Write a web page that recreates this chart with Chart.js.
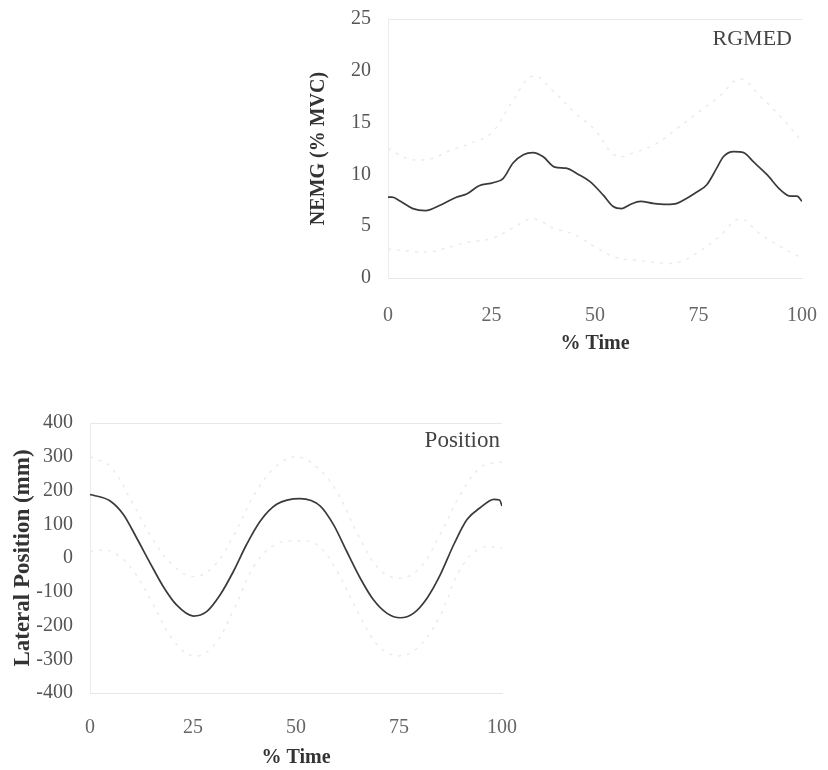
<!DOCTYPE html>
<html>
<head>
<meta charset="utf-8">
<script src="https://cdn.jsdelivr.net/npm/chart.js@4.4.1/dist/chart.umd.min.js"></script>
<style>
  html, body { margin: 0; padding: 0; background: #fff; }
  body { width: 828px; height: 770px; position: relative; overflow: hidden; }
  .box { position: absolute; }
</style>
</head>
<body>
<div class="box" style="left:300px; top:0; width:528px; height:360px;"><canvas id="grafRgmed"></canvas></div>
<div class="box" style="left:0; top:390px; width:540px; height:380px;"><canvas id="grafPos"></canvas></div>
<script>
// Datos: NEMG del glúteo medio derecho (RGMED)
const rgmedTime = [0, 1, 3, 6, 9, 13, 16.5, 19, 22, 25.4, 27.8, 30.2, 32.7, 35, 37.5, 40.3, 43, 46, 48.8, 52, 54.4, 56.5, 58.5, 61, 64, 67.3, 69.8, 72.2, 74.6, 77, 79.4, 81, 83.5, 85.9, 88.3, 91.5, 94.8, 97.2, 98.8, 100];
const rgmedMean = [7.8, 7.8, 7.4, 6.7, 6.5, 7.1, 7.8, 8.1, 8.9, 9.2, 9.6, 11.1, 11.9, 12.1, 11.7, 10.7, 10.6, 10.0, 9.3, 8.0, 6.9, 6.7, 7.1, 7.4, 7.2, 7.1, 7.2, 7.7, 8.3, 9.0, 10.6, 11.7, 12.2, 12.1, 11.2, 10.0, 8.5, 7.9, 7.9, 7.4];
// bandas (+/- DE), apenas visibles
const rgmedBandTime = [0, 5, 10, 15, 20, 25, 30, 35, 40, 45, 50, 55, 60, 65, 70, 75, 80, 85, 90, 95, 100];
const rgmedUpper = [12.5, 11.5, 11.5, 12.3, 13.0, 14.0, 17.0, 19.5, 18.0, 16.0, 14.3, 11.8, 12.2, 13.0, 14.5, 16.0, 17.5, 19.2, 17.5, 15.5, 13.2];
const rgmedLower = [2.8, 2.6, 2.5, 3.0, 3.5, 3.8, 4.8, 5.7, 4.8, 4.2, 3.0, 2.0, 1.7, 1.5, 1.5, 2.5, 4.0, 5.7, 4.2, 3.0, 1.9];

// Datos de posición lateral (mm)
const posTime = [0, 0.8, 4.9, 8.1, 11.3, 14.6, 17.8, 21, 25.1, 28.3, 31.6, 34.8, 38, 41.3, 45.3, 51, 55.9, 59.1, 62.3, 65.6, 68.8, 72.1, 75.3, 78.5, 81.8, 85, 88.3, 91.5, 94.7, 98, 99.4, 100];
const posMean = [188, 186, 169, 129, 60, -15, -85, -139, -172, -159, -109, -40, 40, 109, 159, 176, 154, 99, 20, -60, -124, -164, -177, -164, -119, -50, 40, 114, 149, 174, 172, 154];
const posBandTime = [0, 5, 10, 15, 20, 25, 30, 35, 40, 45, 50, 55, 60, 65, 70, 75, 80, 85, 90, 95, 100];
const posUpper = [300, 270, 170, 60, -20, -55, -25, 70, 190, 270, 300, 270, 195, 70, -30, -60, -30, 70, 190, 270, 285];
const posLower = [20, 20, -30, -130, -240, -290, -260, -150, -20, 40, 50, 40, -40, -160, -260, -290, -260, -170, -30, 30, 30];

const fuente = "'Liberation Serif', 'Times New Roman', serif";

function puntos(xs, ys) {
  return xs.map((x, i) => ({ x: x, y: ys[i] }));
}

// Etiqueta dentro del área del gráfico (esquina superior derecha)
const etiquetaEsquina = {
  id: 'etiquetaEsquina',
  afterDraw(chart) {
    const o = chart.options.plugins.etiquetaEsquina;
    if (!o || !o.text) return;
    const ctx = chart.ctx;
    const a = chart.chartArea;
    ctx.save();
    ctx.font = o.size + 'px ' + fuente;
    ctx.fillStyle = '#444';
    ctx.textAlign = 'right';
    ctx.textBaseline = 'middle';
    ctx.fillText(o.text, a.right - o.dx, a.top + o.dy);
    ctx.restore();
  }
};

function crearGrafico(id, cfg) {
  const serieBanda = (xs, ys) => ({
    data: puntos(xs, ys),
    borderColor: '#ebebeb',
    borderWidth: 1.5,
    borderDash: [3, 6],
    pointRadius: 0,
    tension: 0.4,
    fill: false
  });
  return new Chart(document.getElementById(id), {
    type: 'line',
    data: {
      datasets: [
        serieBanda(cfg.bandTime, cfg.upper),
        serieBanda(cfg.bandTime, cfg.lower),
        {
          data: puntos(cfg.time, cfg.mean),
          borderColor: '#3a3a3a',
          borderWidth: 1.7,
          pointRadius: 0,
          cubicInterpolationMode: 'monotone',
          fill: false
        }
      ]
    },
    options: {
      responsive: true,
      maintainAspectRatio: false,
      animation: false,
      devicePixelRatio: 1,
      layout: { padding: cfg.padding },
      plugins: {
        legend: { display: false },
        tooltip: { enabled: false },
        etiquetaEsquina: cfg.label
      },
      scales: {
        x: {
          type: 'linear',
          min: 0, max: 100,
          // el margen lo controla layout.padding
          afterFit: s => { s.height = cfg.xHeight; s.paddingLeft = 0; s.paddingRight = 0; },
          ticks: { stepSize: 25, color: '#666', padding: cfg.xTickPad, font: { family: fuente, size: 20 } },
          grid: { display: false, drawTicks: false },
          border: { display: true, color: '#e6e6e6' },
          title: { display: true, text: '% Time', color: '#333', padding: { top: 0, bottom: 0 }, font: { family: fuente, size: 20, weight: 'bold' } }
        },
        y: {
          min: cfg.yMin, max: cfg.yMax,
          afterFit: s => { s.width = cfg.yWidth; s.paddingTop = 0; s.paddingBottom = 0; },
          ticks: { stepSize: cfg.yStep, color: '#555', padding: 17, font: { family: fuente, size: 20 } },
          grid: {
            drawTicks: false,
            color: c => (c.tick && c.tick.value === cfg.yMax) ? '#e8e8e8' : 'rgba(0,0,0,0)'
          },
          border: { display: true, color: '#ececec' },
          title: { display: true, text: cfg.yTitle, color: '#333', padding: 0, font: { family: fuente, size: cfg.yTitleSize, weight: 'bold' } }
        }
      }
    },
    plugins: [etiquetaEsquina]
  });
}

crearGrafico('grafRgmed', {
  time: rgmedTime, mean: rgmedMean,
  bandTime: rgmedBandTime, upper: rgmedUpper, lower: rgmedLower,
  yMin: 0, yMax: 25, yStep: 5,
  yTitle: 'NEMG (% MVC)', yTitleSize: 20,
  padding: { left: 7, top: 19, right: 26, bottom: 4 },
  yWidth: 81, xHeight: 78, xTickPad: 26,
  label: { text: 'RGMED', size: 22, dx: 10, dy: 20 }
});

crearGrafico('grafPos', {
  time: posTime, mean: posMean,
  bandTime: posBandTime, upper: posUpper, lower: posLower,
  yMin: -400, yMax: 400, yStep: 100,
  yTitle: 'Lateral Position (mm)', yTitleSize: 23,
  padding: { left: 9, top: 33, right: 38, bottom: 0 },
  yWidth: 81, xHeight: 77, xTickPad: 23,
  label: { text: 'Position', size: 23, dx: 2, dy: 18 }
});
</script>
</body>
</html>
